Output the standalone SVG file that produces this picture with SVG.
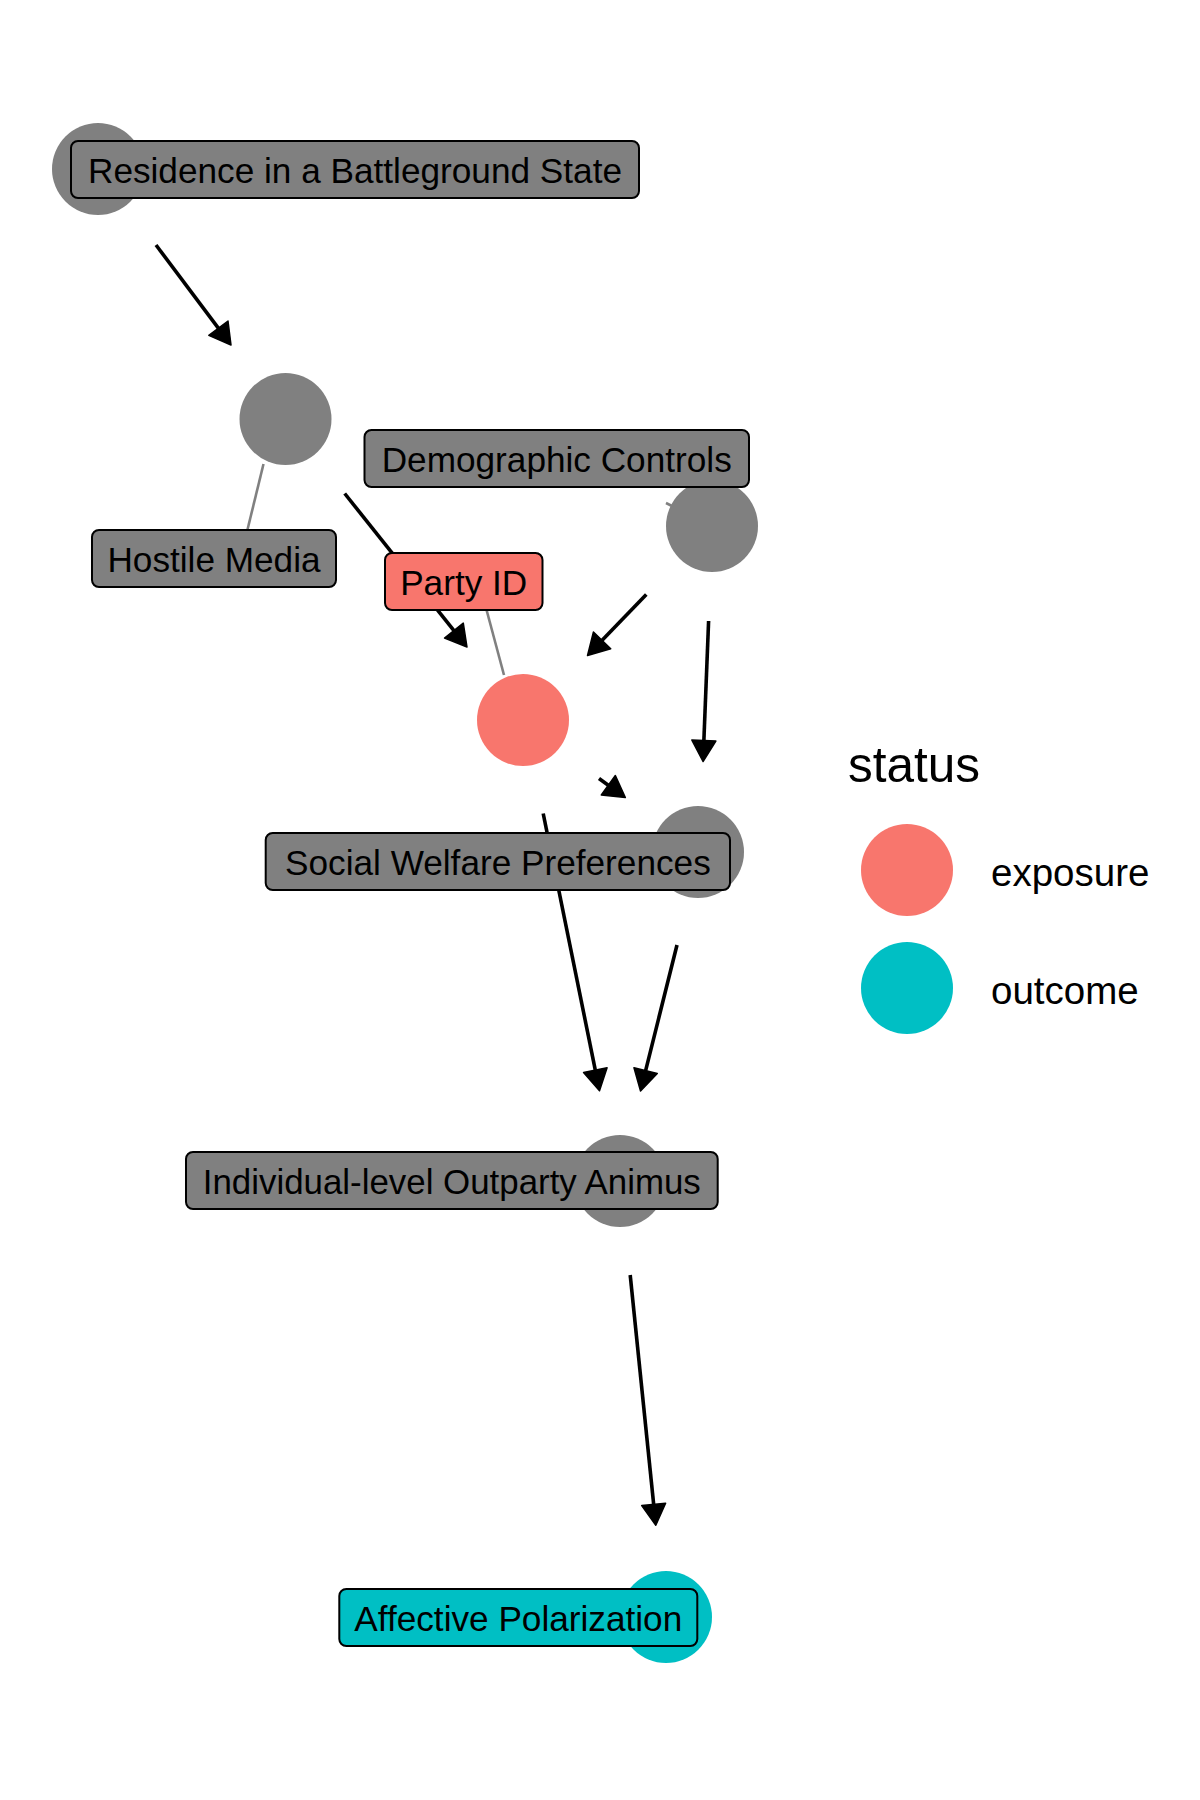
<svg xmlns="http://www.w3.org/2000/svg" width="1200" height="1800" viewBox="0 0 1200 1800">
<style>
  .edge { stroke: #000; stroke-width: 3.6; fill: none; }
  .seg { stroke: #808080; stroke-width: 2.6; fill: none; }
  .grey { fill: #808080; }
  .expo { fill: #F8766D; }
  .outc { fill: #00BFC4; }
  .box { stroke: #000; stroke-width: 2; }
  .lbl { font-family: "Liberation Sans", Arial, sans-serif; font-size: 35.2px; fill: #000; text-anchor: middle; }
  .leg { font-family: "Liberation Sans", Arial, sans-serif; fill: #000; }
</style>
<defs>
  <marker id="arr" markerUnits="userSpaceOnUse" viewBox="-24 -14 26 28" markerWidth="26" markerHeight="28" refX="-4" refY="0" orient="auto">
    <path d="M-21,-12 L0,0 L-21,12 Z" fill="#000" stroke="#000" stroke-width="1.5" stroke-linejoin="round"/>
  </marker>
</defs>
<rect x="0" y="0" width="1200" height="1800" fill="#fff"/>

<g id="edges">
  <line class="edge" x1="156" y1="245" x2="228.6" y2="341.8" marker-end="url(#arr)"/>
  <line class="edge" x1="344.7" y1="493.5" x2="464.5" y2="643.9" marker-end="url(#arr)"/>
  <line class="edge" x1="646.3" y1="594.4" x2="590.3" y2="652.6" marker-end="url(#arr)"/>
  <line class="edge" x1="708.6" y1="621" x2="703.2" y2="757.5" marker-end="url(#arr)"/>
  <line class="edge" x1="599" y1="778.5" x2="622.1" y2="795.2" marker-end="url(#arr)"/>
  <line class="edge" x1="543.2" y1="813.5" x2="598.7" y2="1086.8" marker-end="url(#arr)"/>
  <line class="edge" x1="677" y1="945" x2="641.5" y2="1087.1" marker-end="url(#arr)"/>
  <line class="edge" x1="630.2" y1="1275" x2="655.4" y2="1521.3" marker-end="url(#arr)"/>
</g>

<g id="node-residence"><circle class="grey" cx="98" cy="169" r="46"/></g>
<g id="node-hostile"><circle class="grey" cx="285.5" cy="419" r="46"/></g>
<g id="node-demographic"><circle class="grey" cx="712" cy="526" r="46"/></g>
<g id="node-partyid"><circle class="expo" cx="523" cy="720" r="46"/></g>
<g id="node-social"><circle class="grey" cx="698" cy="852" r="46"/></g>
<g id="node-individual"><circle class="grey" cx="620" cy="1181" r="46"/></g>
<g id="node-affective"><circle class="outc" cx="666" cy="1617" r="46"/></g>

<g id="label-segments">
  <line class="seg" x1="263.5" y1="464" x2="247.4" y2="530"/>
  <line class="seg" x1="486.3" y1="609" x2="504" y2="675"/>
  <line class="seg" x1="666" y1="503" x2="672" y2="506"/>
</g>

<g id="label-residence">
  <rect class="box grey" x="71" y="141" width="568" height="57" rx="7"/>
  <text class="lbl" x="355" y="183">Residence in a Battleground State</text>
</g>
<g id="label-hostile">
  <rect class="box grey" x="92" y="530" width="244" height="57" rx="7"/>
  <text class="lbl" x="214" y="572">Hostile Media</text>
</g>
<g id="label-demographic">
  <rect class="box grey" x="364.5" y="430" width="384.5" height="57" rx="7"/>
  <text class="lbl" x="556.7" y="472">Demographic Controls</text>
</g>
<g id="label-partyid">
  <rect class="box expo" x="385" y="553" width="157.5" height="57" rx="7"/>
  <text class="lbl" x="463.7" y="595">Party ID</text>
</g>
<g id="label-social">
  <rect class="box grey" x="265.7" y="833" width="464.3" height="57" rx="7"/>
  <text class="lbl" x="497.9" y="875">Social Welfare Preferences</text>
</g>
<g id="label-individual">
  <rect class="box grey" x="186" y="1152" width="531.7" height="57" rx="7"/>
  <text class="lbl" x="451.8" y="1194" textLength="498" lengthAdjust="spacingAndGlyphs">Individual-level Outparty Animus</text>
</g>
<g id="label-affective">
  <rect class="box outc" x="339.3" y="1589" width="358" height="57" rx="7"/>
  <text class="lbl" x="518.3" y="1631">Affective Polarization</text>
</g>

<g id="legend">
  <text class="leg" x="848" y="782" font-size="49.5">status</text>
  <circle class="expo" cx="907" cy="870" r="46"/>
  <text class="leg" x="991" y="886" font-size="38.5">exposure</text>
  <circle class="outc" cx="907" cy="988" r="46"/>
  <text class="leg" x="991" y="1004" font-size="38.5">outcome</text>
</g>
</svg>
